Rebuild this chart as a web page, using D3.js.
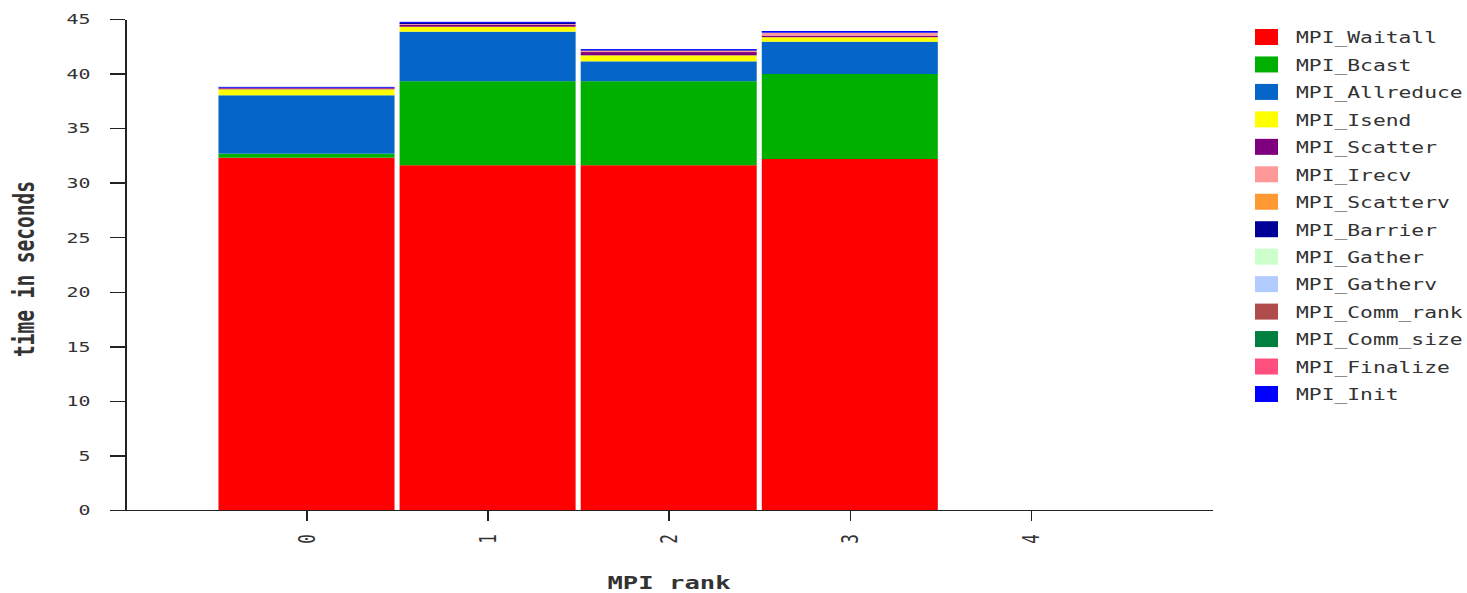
<!DOCTYPE html>
<html>
<head>
<meta charset="utf-8">
<script src="https://cdnjs.cloudflare.com/ajax/libs/d3/7.8.5/d3.min.js"></script>
<style>
  body { margin: 0; background: #fff; }
  text { font-family: "DejaVu Sans Mono", "Liberation Mono", monospace; fill: #333; }
  .axis path, .axis line { stroke: #222; stroke-width: 1.5; shape-rendering: crispEdges; }
</style>
</head>
<body>
<script>
// ranks on the x axis
var ranks = [0, 1, 2, 3, 4];
var yTicks = [0, 5, 10, 15, 20, 25, 30, 35, 40, 45];

// series, bottom of the stack first
var seriesNames = ["MPI_Waitall", "MPI_Bcast", "MPI_Allreduce", "MPI_Isend", "MPI_Scatter",
  "MPI_Irecv", "MPI_Scatterv", "MPI_Barrier", "MPI_Gather", "MPI_Gatherv",
  "MPI_Comm_rank", "MPI_Comm_size", "MPI_Finalize", "MPI_Init"];
var seriesColors = ["#ff0000", "#00b000", "#0565c8", "#ffff00", "#7f007f",
  "#ff9999", "#ff9933", "#000099", "#ccffcc", "#b3ccff",
  "#b04c4c", "#007f3f", "#ff4f7f", "#0000ff"];

// seconds per rank
var waitall    = [32.29, 31.60, 31.60, 32.17, 0];
var bcast      = [0.37, 7.70, 7.70, 7.79, 0];
var allreduce  = [5.35, 4.54, 1.82, 2.96, 0];
var isend      = [0.55, 0.45, 0.55, 0.41, 0];
var scatter    = [0.10, 0.20, 0.30, 0.15, 0];
var irecv      = [0.02, 0.05, 0.12, 0.25, 0];
var scatterv   = [0, 0, 0, 0, 0];
var barrier    = [0.02, 0.10, 0.05, 0.02, 0];
var gather     = [0, 0, 0, 0, 0];
var gatherv    = [0, 0, 0, 0, 0];
var commRank   = [0, 0, 0, 0, 0];
var commSize   = [0, 0, 0, 0, 0];
var finalize   = [0, 0, 0, 0, 0];
var init       = [0.08, 0.10, 0.10, 0.15, 0];

var seriesValues = [waitall, bcast, allreduce, isend, scatter, irecv, scatterv,
  barrier, gather, gatherv, commRank, commSize, finalize, init];

var W = 1467, H = 593;
var SX = 1.42; // the original text is stretched sideways

var rows = ranks.map(function(r, i) {
  var row = {rank: r};
  seriesNames.forEach(function(s, j) { row[s] = seriesValues[j][i]; });
  return row;
});

var x = d3.scaleLinear().domain([-1.085, 5]).range([110, 1212]);
var y = d3.scaleLinear().domain([0, 45]).range([510, 19]);
var color = d3.scaleOrdinal().domain(seriesNames).range(seriesColors);
var barW = 0.972;

var svg = d3.select("body").append("svg")
    .attr("width", W)
    .attr("height", H);

svg.append("rect").attr("width", W).attr("height", H).attr("fill", "#fff");

// stacked bars
var stacked = d3.stack().keys(seriesNames)(rows);

svg.selectAll(".layer")
    .data(stacked)
  .enter().append("g")
    .attr("class", "layer")
    .attr("fill", function(d) { return color(d.key); })
  .selectAll("rect")
    .data(function(d) { return d; })
  .enter().append("rect")
    .attr("x", function(d) { return x(d.data.rank - barW / 2); })
    .attr("width", x(barW) - x(0))
    .attr("y", function(d) { return y(d[1]); })
    .attr("height", function(d) { return y(d[0]) - y(d[1]); });

// x axis
var gx = svg.append("g")
    .attr("class", "axis")
    .attr("transform", "translate(0," + y(0) + ")")
    .call(d3.axisBottom(x).tickValues(ranks).tickFormat(d3.format("d"))
      .tickSize(11).tickSizeOuter(0));
gx.selectAll("text")
    .attr("y", null).attr("dy", null)
    .attr("font-size", 16)
    .attr("text-anchor", "middle")
    .attr("dominant-baseline", "central")
    .attr("transform", "translate(0,29) scale(" + SX + ",1) rotate(-90)");

// y axis
var gy = svg.append("g")
    .attr("class", "axis")
    .attr("transform", "translate(" + x(-1) + ",0)")
    .call(d3.axisLeft(y).tickValues(yTicks).tickSize(15).tickSizeOuter(0));
gy.selectAll("text")
    .attr("x", null).attr("dy", null)
    .attr("font-size", 14)
    .attr("text-anchor", "end")
    .attr("dominant-baseline", "central")
    .attr("transform", "translate(-35,0) scale(" + SX + ",1)");

// axis titles
svg.append("text")
    .attr("font-size", 18)
    .attr("font-weight", "bold")
    .attr("text-anchor", "middle")
    .attr("dominant-baseline", "central")
    .attr("transform", "translate(669,582) scale(" + SX + ",1)")
    .text("MPI rank");

svg.append("text")
    .attr("font-size", 19.5)
    .attr("font-weight", "bold")
    .attr("text-anchor", "middle")
    .attr("dominant-baseline", "central")
    .attr("transform", "translate(25,269) scale(" + SX + ",1) rotate(-90)")
    .text("time in seconds");

// legend
var legend = svg.selectAll(".legend")
    .data(seriesNames)
  .enter().append("g")
    .attr("class", "legend")
    .attr("transform", function(d, i) { return "translate(1255," + (37 + i * 27.46) + ")"; });

legend.append("rect")
    .attr("x", 0)
    .attr("y", -8)
    .attr("width", 23)
    .attr("height", 16)
    .attr("fill", color);

legend.append("text")
    .attr("font-size", 15)
    .attr("dominant-baseline", "central")
    .attr("transform", "translate(41,1) scale(" + SX + ",1)")
    .text(function(d) { return d; });
</script>
</body>
</html>
